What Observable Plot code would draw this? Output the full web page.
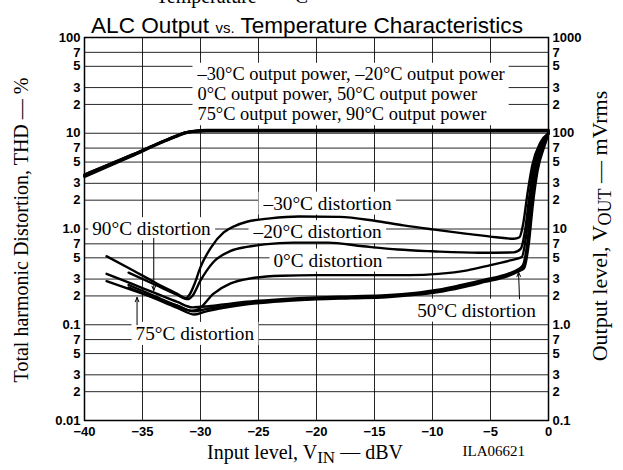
<!DOCTYPE html>
<html><head><meta charset="utf-8">
<script src="https://cdn.jsdelivr.net/npm/d3@7"></script>
<script src="https://cdn.jsdelivr.net/npm/@observablehq/plot@0.6"></script>
<style>
html,body{margin:0;padding:0;background:#fff;overflow:hidden}
#chart svg{display:block}
</style></head><body><div id="chart"></div>
<script>
// ---------- data ----------
const xTicks = [-40, -35, -30, -25, -20, -15, -10, -5, 0];
const xTickLabels = ["−40", "−35", "−30", "−25", "−20", "−15", "−10", "−5", "0"];
const yTicks = [0.01,0.02,0.03,0.05,0.07,0.1,0.2,0.3,0.5,0.7,1,2,3,5,7,10,20,30,50,70,100];
const yLabelsLeft = ["0.01","2","3","5","7","0.1","2","3","5","7","1.0","2","3","5","7","10","2","3","5","7","100"];
const yLabelsRight = ["0.1","2","3","5","7","1.0","2","3","5","7","10","2","3","5","7","100","2","3","5","7","1000"];

const temperatures = ["–30°C", "–20°C", "0°C", "50°C", "75°C", "90°C"];

// THD (%) vs input level (dBV)
const distM30 = [[-38.1,0.52],[-36,0.38],[-34,0.28],[-32,0.21],[-31.3,0.19],[-30.9,0.21],[-30.5,0.27],[-30,0.40],[-29.1,0.64],[-28,0.92],[-27,1.08],[-26,1.19],[-24,1.29],[-21.5,1.35],[-18,1.34],[-15,1.22],[-12.5,1.09],[-10,0.99],[-7,0.89],[-4.5,0.82],[-3,0.79],[-2.5,0.82],[-2.2,1.1],[-1.8,2.4],[-1.4,4.6],[-0.7,8.0],[0,10]];
const distM20 = [[-36.2,0.35],[-34,0.265],[-32,0.205],[-31.1,0.185],[-30.7,0.2],[-30,0.29],[-28.9,0.45],[-27.4,0.59],[-26,0.65],[-24.5,0.69],[-22,0.72],[-19,0.72],[-16,0.66],[-13,0.61],[-10,0.585],[-6,0.565],[-3,0.57],[-2.4,0.62],[-2.0,1.0],[-1.65,2.2],[-1.3,4.4],[-0.6,8.0],[0,10]];
const dist0 = [[-36.2,0.26],[-34,0.2],[-32,0.158],[-30.8,0.14],[-30.2,0.145],[-28.9,0.21],[-27.4,0.27],[-25.7,0.305],[-23,0.325],[-20,0.33],[-16,0.33],[-12,0.33],[-9.5,0.34],[-7,0.37],[-5,0.42],[-3.3,0.47],[-2.3,0.51],[-1.9,0.9],[-1.55,2.1],[-1.2,4.3],[-0.5,8.0],[0,10]];
const dist50 = [[-36.2,0.245],[-34,0.19],[-32,0.15],[-30.5,0.128],[-29.5,0.138],[-28,0.15],[-26,0.163],[-23,0.176],[-20,0.184],[-17,0.189],[-14,0.194],[-11.5,0.205],[-9.5,0.22],[-7.5,0.245],[-5.5,0.28],[-3.5,0.322],[-2.6,0.36],[-2.1,0.39],[-1.7,0.70],[-1.35,1.8],[-0.95,4.0],[-0.25,8.0],[0,10]];
const dist75 = [[-38.1,0.285],[-36,0.233],[-34,0.192],[-32,0.158],[-30.6,0.138],[-29.5,0.146],[-28,0.156],[-26,0.168],[-23,0.18],[-20,0.188],[-17,0.193],[-14,0.198],[-11.5,0.21],[-9.5,0.226],[-7.5,0.252],[-5.5,0.287],[-3.5,0.33],[-2.6,0.37],[-2.15,0.40],[-1.75,0.72],[-1.4,1.9],[-1.0,4.1],[-0.3,8.0],[0,10]];
const dist90 = [[-38.1,0.34],[-36,0.27],[-34,0.216],[-32,0.173],[-30.7,0.152],[-29.5,0.155],[-28,0.163],[-26,0.174],[-23,0.185],[-20,0.193],[-17,0.198],[-14,0.203],[-11.5,0.215],[-9.5,0.232],[-7.5,0.26],[-5.5,0.295],[-3.5,0.34],[-2.6,0.38],[-2.2,0.42],[-1.8,0.75],[-1.45,2.0],[-1.1,4.2],[-0.4,8.0],[0,10]];

// Output level (mVrms, right axis) vs input level (dBV)
const outInput = [-40, -36, -33, -32, -31.3, -30.6, -29.5, -20, -10, -3, 0];
const outM30 = [36, 58, 84, 94, 101, 104, 105, 105, 105, 105, 105];
const outM20 = [36, 58, 84, 94, 101, 104, 106, 106, 106, 106, 106];
const out0   = [35, 57, 83, 93, 100, 104, 106, 106, 106, 106, 106];
const out50  = [36, 58, 84, 94, 102, 105, 107, 107, 107, 107, 107];
const out75  = [37, 59, 85, 95, 102, 105, 107, 107, 107, 107, 107];
const out90  = [37, 59, 85, 95, 102, 106, 108, 108, 108, 108, 108];

// annotations
const powerText = "–30°C output power, –20°C output power\n0°C output power, 50°C output power\n75°C output power, 90°C output power";
const powerX = [-30.26];
const powerY = [26.0];
const distLabelText = ["–30°C distortion", "–20°C distortion", "0°C distortion", "50°C distortion", "90°C distortion", "75°C distortion"];
const distLabelX = [-24.57, -25.43, -23.71, -11.32, -39.34, -35.6];
const distLabelY = [1.85, 0.93, 0.47, 0.141, 1.0, 0.0806];
const leaderX1 = [-34.03, -35.47, -2.5];
const leaderX2 = [-34.03, -35.47, -2.58];
const leaderY1 = [0.80, 0.1, 0.187];
const leaderY2 = [0.228, 0.193, 0.354];

// ---------- build tables ----------
const distSeries = [distM30, distM20, dist0, dist50, dist75, dist90];
const distRows = distSeries.flatMap((s, k) => s.map(([x, y]) => ({series: temperatures[k], x, y})));
const outSeries = [outM30, outM20, out0, out50, out75, out90];
const outRows = outSeries.flatMap((s, k) => s.map((mv, i) => ({series: temperatures[k], x: outInput[i], mv})));
const powerLabel = powerX.map((x, i) => ({t: powerText, x, y: powerY[i]}));
const distLabels = distLabelText.map((t, i) => ({t, x: distLabelX[i], y: distLabelY[i]}));
const leaders = leaderX1.map((x1, i) => ({x1, x2: leaderX2[i], y1: leaderY1[i], y2: leaderY2[i]}));
const leftFmt = new Map(yTicks.map((v, i) => [v, yLabelsLeft[i]]));
const rightFmt = new Map(yTicks.map((v, i) => [v, yLabelsRight[i]]));
const xFmt = new Map(xTicks.map((v, i) => [v, xTickLabels[i]]));

const W = 623, H = 470;
const sans = "Liberation Sans, Arial, sans-serif";
const serif = "Liberation Serif, Times New Roman, serif";
const tickFont = {fontSize: 13, fontWeight: "bold", fontFamily: sans, fill: "black"};

const svg = Plot.plot({
  width: W, height: H,
  marginTop: 37, marginBottom: 50, marginLeft: 84, marginRight: 75,
  style: {background: "white", color: "black", fontFamily: sans, overflow: "visible"},
  x: {domain: [-40, 0], axis: null},
  y: {type: "log", domain: [0.01, 100], axis: null},
  marks: [
    Plot.gridX(xTicks, {stroke: "black", strokeOpacity: 0.85, strokeWidth: 1}),
    Plot.gridY(yTicks, {stroke: "black", strokeOpacity: 0.85, strokeWidth: 1}),
    // tick labels
    Plot.text(xTicks, {x: d => d, text: d => xFmt.get(d), frameAnchor: "bottom", lineAnchor: "top", dy: 6, ...tickFont}),
    Plot.text(yTicks, {y: d => d, text: d => leftFmt.get(d), frameAnchor: "left", textAnchor: "end", dx: -4, ...tickFont}),
    Plot.text(yTicks, {y: d => d, text: d => rightFmt.get(d), frameAnchor: "right", textAnchor: "start", dx: 4, ...tickFont}),
    // annotations
    Plot.text(powerLabel, {x: "x", y: "y", text: "t", textAnchor: "start", lineAnchor: "middle", lineHeight: 1.1,
      fontFamily: serif, fontSize: 18.4, fill: "black"}),
    Plot.text(distLabels, {x: "x", y: "y", text: "t", textAnchor: "start", lineAnchor: "middle",
      fontFamily: serif, fontSize: 19.3, fill: "black"}),
    Plot.arrow(leaders, {x1: "x1", y1: "y1", x2: "x2", y2: "y2", stroke: "black", strokeWidth: 1, headLength: 7, headAngle: 45}),
    Plot.line(outRows, {x: "x", y: d => d.mv / 10, z: "series", curve: "monotone-x", stroke: "black", strokeWidth: 2.4}),
    Plot.line(distRows, {x: "x", y: "y", z: "series", curve: "monotone-x", stroke: "black", strokeWidth: 2.4}),
    Plot.frame({stroke: "black", strokeWidth: 1.5})
  ]
});
document.getElementById("chart").append(svg);

// white boxes behind annotation texts (serif text marks only)
const NS = "http://www.w3.org/2000/svg";
svg.querySelectorAll('g[aria-label="text"]').forEach(g => {
  if (!(g.getAttribute("font-family") || "").includes("Serif")) return;
  g.querySelectorAll("text").forEach(t => {
    const bb = t.getBBox();
    const r = document.createElementNS(NS, "rect");
    r.setAttribute("x", bb.x - 4); r.setAttribute("y", bb.y - 1);
    r.setAttribute("width", bb.width + 8); r.setAttribute("height", bb.height + 2);
    r.setAttribute("fill", "white"); r.setAttribute("stroke", "none");
    if (t.getAttribute("transform")) r.setAttribute("transform", t.getAttribute("transform"));
    t.parentNode.insertBefore(r, t);
  });
});

// titles and axis labels
const s = d3.select(svg);
s.append("text").attr("x", 232).attr("y", 3).attr("font-family", serif).attr("font-size", 20)
  .text("Temperature — °C");
const title = s.append("text").attr("x", 307).attr("y", 33).attr("text-anchor", "middle")
  .attr("font-family", sans).attr("font-size", 22.6);
title.append("tspan").text("ALC Output ");
title.append("tspan").attr("font-size", 15).text("vs.");
title.append("tspan").text(" Temperature Characteristics");

s.append("text").attr("transform", "translate(28,230) rotate(-90)").attr("text-anchor", "middle")
  .attr("font-family", serif).attr("font-size", 20).text("Total harmonic Distortion, THD — %");

const rl = s.append("text").attr("transform", "translate(607,226) rotate(-90)").attr("text-anchor", "middle")
  .attr("font-family", serif).attr("font-size", 22);
rl.append("tspan").text("Output level, V");
rl.append("tspan").attr("font-size", 18).attr("dy", 4).text("OUT");
rl.append("tspan").attr("dy", -4).text(" — mVrms");

const bl = s.append("text").attr("x", 305).attr("y", 459).attr("text-anchor", "middle")
  .attr("font-family", serif).attr("font-size", 20);
bl.append("tspan").text("Input level, V");
bl.append("tspan").attr("font-size", 17).attr("dy", 4).text("IN");
bl.append("tspan").attr("dy", -4).text(" — dBV");

s.append("text").attr("x", 525).attr("y", 456).attr("text-anchor", "end")
  .attr("font-family", serif).attr("font-size", 15).text("ILA06621");
</script></body></html>
